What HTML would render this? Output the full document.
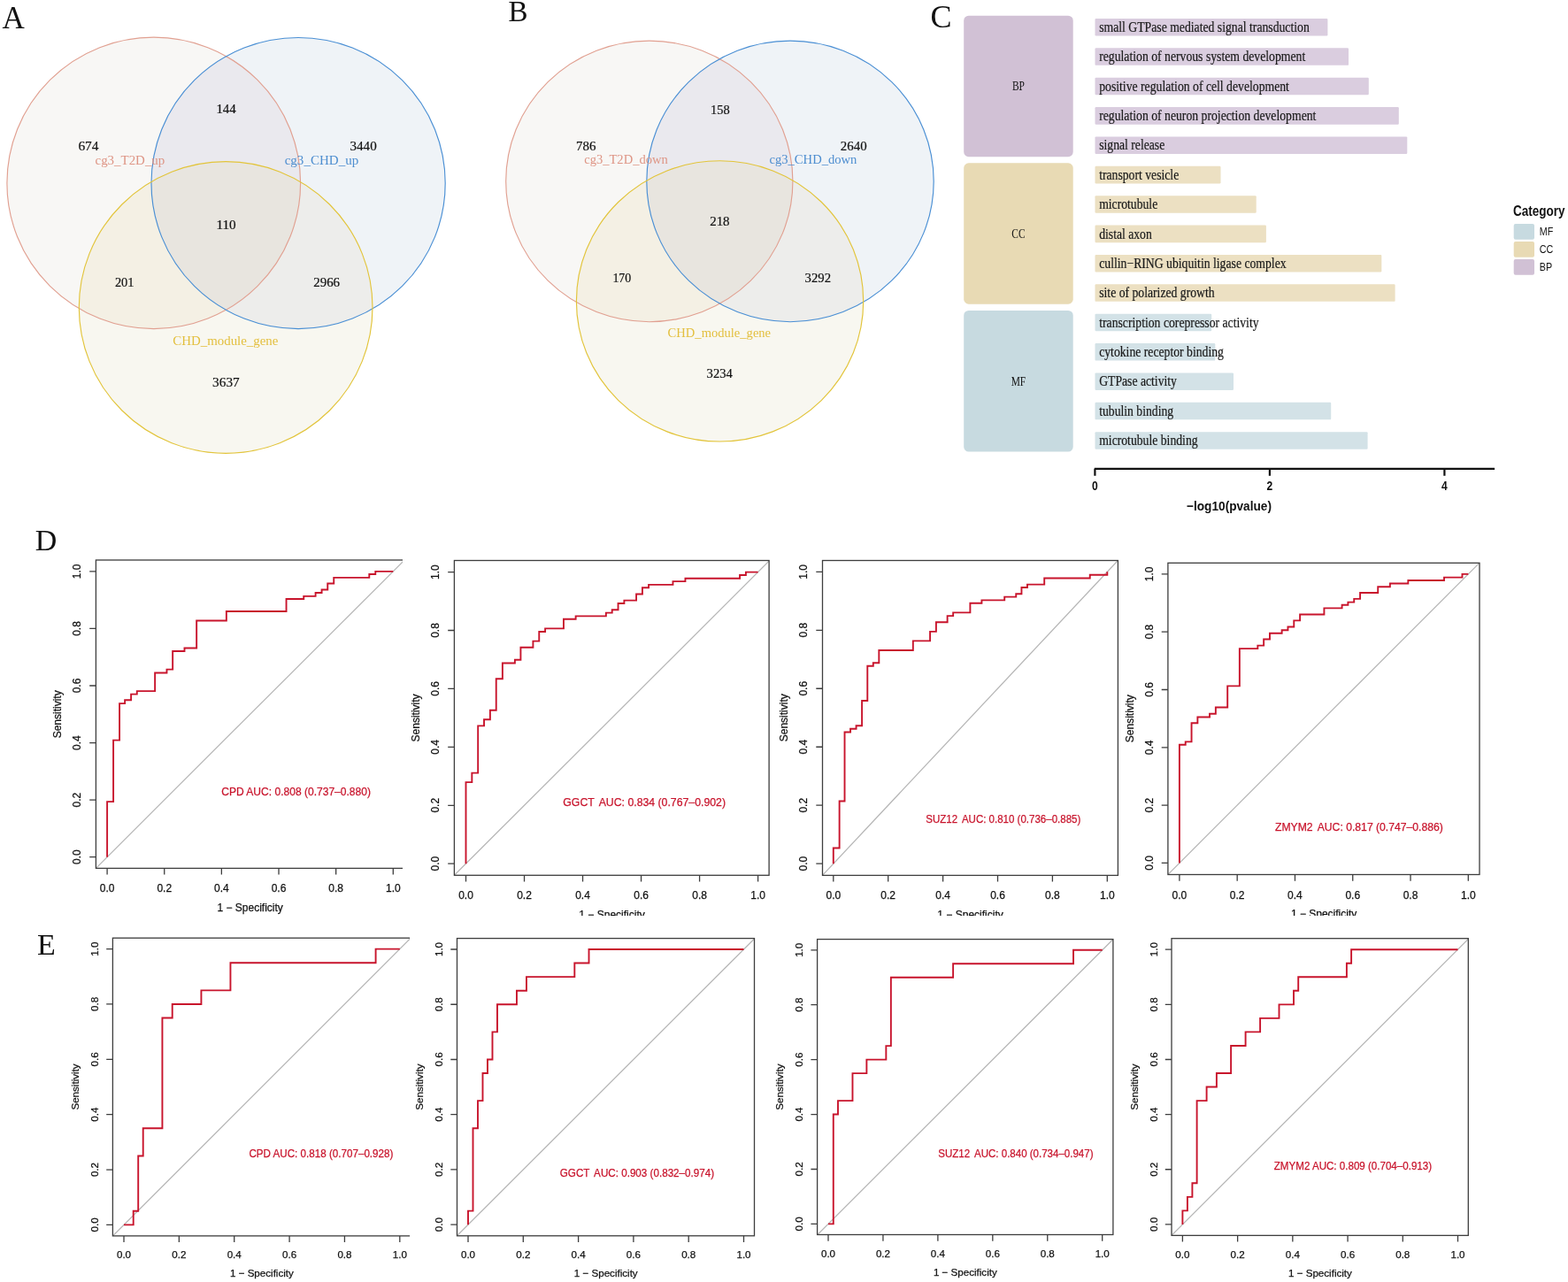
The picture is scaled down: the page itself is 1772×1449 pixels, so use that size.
<!DOCTYPE html><html><head><meta charset="utf-8"><title>Figure</title><style>html,body{margin:0;padding:0;background:#fff;}svg{display:block;}</style></head><body>
<svg width="1772" height="1449" viewBox="0 0 1772 1449">
<rect width="1772" height="1449" fill="#fff"/>
<clipPath id="vr1"><ellipse cx="173.75" cy="206.9" rx="165.85" ry="164.7"/></clipPath>
<clipPath id="vb1"><ellipse cx="337.1" cy="207.05" rx="166.1" ry="164.55"/></clipPath>
<ellipse cx="173.75" cy="206.9" rx="165.85" ry="164.7" fill="#F8F7F5"/>
<ellipse cx="337.1" cy="207.05" rx="166.1" ry="164.55" fill="#EFF3F7"/>
<ellipse cx="255.15" cy="347.5" rx="165.85" ry="164.8" fill="#F8F7F0"/>
<ellipse cx="337.1" cy="207.05" rx="166.1" ry="164.55" fill="#EAE9EE" clip-path="url(#vr1)"/>
<ellipse cx="255.15" cy="347.5" rx="165.85" ry="164.8" fill="#F4F0E4" clip-path="url(#vr1)"/>
<ellipse cx="255.15" cy="347.5" rx="165.85" ry="164.8" fill="#EDEDEB" clip-path="url(#vb1)"/>
<g clip-path="url(#vr1)"><ellipse cx="255.15" cy="347.5" rx="165.85" ry="164.8" fill="#E8E5DF" clip-path="url(#vb1)"/></g>
<ellipse cx="173.75" cy="206.9" rx="165.85" ry="164.7" fill="none" stroke="#E1A091" stroke-width="1.15"/>
<ellipse cx="337.1" cy="207.05" rx="166.1" ry="164.55" fill="none" stroke="#4A8FD4" stroke-width="1.15"/>
<ellipse cx="255.15" cy="347.5" rx="165.85" ry="164.8" fill="none" stroke="#E2C43A" stroke-width="1.15"/>
<text x="255.55" y="128.00" font-family='"Liberation Serif", serif' font-size="15.3" fill="#111" text-anchor="middle" textLength="22.30" lengthAdjust="spacingAndGlyphs" stroke="#111" stroke-width="0.2">144</text>
<text x="100.00" y="169.80" font-family='"Liberation Serif", serif' font-size="15.3" fill="#111" text-anchor="middle" textLength="23.20" lengthAdjust="spacingAndGlyphs" stroke="#111" stroke-width="0.2">674</text>
<text x="410.60" y="170.00" font-family='"Liberation Serif", serif' font-size="15.3" fill="#111" text-anchor="middle" textLength="30.20" lengthAdjust="spacingAndGlyphs" stroke="#111" stroke-width="0.2">3440</text>
<text x="255.55" y="258.70" font-family='"Liberation Serif", serif' font-size="15.3" fill="#111" text-anchor="middle" textLength="22.30" lengthAdjust="spacingAndGlyphs" stroke="#111" stroke-width="0.2">110</text>
<text x="140.70" y="324.30" font-family='"Liberation Serif", serif' font-size="15.3" fill="#111" text-anchor="middle" textLength="21.60" lengthAdjust="spacingAndGlyphs" stroke="#111" stroke-width="0.2">201</text>
<text x="369.15" y="324.30" font-family='"Liberation Serif", serif' font-size="15.3" fill="#111" text-anchor="middle" textLength="29.90" lengthAdjust="spacingAndGlyphs" stroke="#111" stroke-width="0.2">2966</text>
<text x="255.40" y="437.40" font-family='"Liberation Serif", serif' font-size="15.3" fill="#111" text-anchor="middle" textLength="30.60" lengthAdjust="spacingAndGlyphs" stroke="#111" stroke-width="0.2">3637</text>
<text x="146.90" y="185.70" font-family='"Liberation Serif", serif' font-size="14.5" fill="#DE9585" text-anchor="middle" textLength="78.80" lengthAdjust="spacingAndGlyphs">cg3_T2D_up</text>
<text x="363.45" y="185.60" font-family='"Liberation Serif", serif' font-size="14.5" fill="#4E8ED0" text-anchor="middle" textLength="83.50" lengthAdjust="spacingAndGlyphs">cg3_CHD_up</text>
<text x="254.85" y="389.50" font-family='"Liberation Serif", serif' font-size="14.5" fill="#E3BF3E" text-anchor="middle" textLength="119.10" lengthAdjust="spacingAndGlyphs">CHD_module_gene</text>
<clipPath id="vr2"><ellipse cx="733.8" cy="204.9" rx="162.1" ry="158.8"/></clipPath>
<clipPath id="vb2"><ellipse cx="893.0" cy="204.9" rx="162.2" ry="158.8"/></clipPath>
<ellipse cx="733.8" cy="204.9" rx="162.1" ry="158.8" fill="#F8F7F5"/>
<ellipse cx="893.0" cy="204.9" rx="162.2" ry="158.8" fill="#EFF3F7"/>
<ellipse cx="813.55" cy="340.4" rx="162.15" ry="158.6" fill="#F8F7F0"/>
<ellipse cx="893.0" cy="204.9" rx="162.2" ry="158.8" fill="#EAE9EE" clip-path="url(#vr2)"/>
<ellipse cx="813.55" cy="340.4" rx="162.15" ry="158.6" fill="#F4F0E4" clip-path="url(#vr2)"/>
<ellipse cx="813.55" cy="340.4" rx="162.15" ry="158.6" fill="#EDEDEB" clip-path="url(#vb2)"/>
<g clip-path="url(#vr2)"><ellipse cx="813.55" cy="340.4" rx="162.15" ry="158.6" fill="#E8E5DF" clip-path="url(#vb2)"/></g>
<ellipse cx="733.8" cy="204.9" rx="162.1" ry="158.8" fill="none" stroke="#E1A091" stroke-width="1.15"/>
<ellipse cx="893.0" cy="204.9" rx="162.2" ry="158.8" fill="none" stroke="#4A8FD4" stroke-width="1.15"/>
<ellipse cx="813.55" cy="340.4" rx="162.15" ry="158.6" fill="none" stroke="#E2C43A" stroke-width="1.15"/>
<text x="813.80" y="129.40" font-family='"Liberation Serif", serif' font-size="15.3" fill="#111" text-anchor="middle" textLength="21.60" lengthAdjust="spacingAndGlyphs" stroke="#111" stroke-width="0.2">158</text>
<text x="662.30" y="170.00" font-family='"Liberation Serif", serif' font-size="15.3" fill="#111" text-anchor="middle" textLength="22.40" lengthAdjust="spacingAndGlyphs" stroke="#111" stroke-width="0.2">786</text>
<text x="964.70" y="170.00" font-family='"Liberation Serif", serif' font-size="15.3" fill="#111" text-anchor="middle" textLength="29.80" lengthAdjust="spacingAndGlyphs" stroke="#111" stroke-width="0.2">2640</text>
<text x="813.40" y="255.10" font-family='"Liberation Serif", serif' font-size="15.3" fill="#111" text-anchor="middle" textLength="22.40" lengthAdjust="spacingAndGlyphs" stroke="#111" stroke-width="0.2">218</text>
<text x="702.85" y="318.60" font-family='"Liberation Serif", serif' font-size="15.3" fill="#111" text-anchor="middle" textLength="20.90" lengthAdjust="spacingAndGlyphs" stroke="#111" stroke-width="0.2">170</text>
<text x="924.35" y="318.60" font-family='"Liberation Serif", serif' font-size="15.3" fill="#111" text-anchor="middle" textLength="29.50" lengthAdjust="spacingAndGlyphs" stroke="#111" stroke-width="0.2">3292</text>
<text x="813.20" y="426.60" font-family='"Liberation Serif", serif' font-size="15.3" fill="#111" text-anchor="middle" textLength="29.20" lengthAdjust="spacingAndGlyphs" stroke="#111" stroke-width="0.2">3234</text>
<text x="707.50" y="184.50" font-family='"Liberation Serif", serif' font-size="14.5" fill="#DE9585" text-anchor="middle" textLength="94.60" lengthAdjust="spacingAndGlyphs">cg3_T2D_down</text>
<text x="918.95" y="184.50" font-family='"Liberation Serif", serif' font-size="14.5" fill="#4E8ED0" text-anchor="middle" textLength="98.90" lengthAdjust="spacingAndGlyphs">cg3_CHD_down</text>
<text x="812.85" y="380.50" font-family='"Liberation Serif", serif' font-size="14.5" fill="#E3BF3E" text-anchor="middle" textLength="116.50" lengthAdjust="spacingAndGlyphs">CHD_module_gene</text>
<rect x="1089.2" y="17.7" width="123.5" height="159.5" rx="5.5" fill="#D1C1D5"/>
<text x="1150.95" y="102.45" font-family='"Liberation Serif", serif' font-size="14.3" fill="#111" text-anchor="middle" textLength="13.99" lengthAdjust="spacingAndGlyphs">BP</text>
<rect x="1089.2" y="184.3" width="123.5" height="159.4" rx="5.5" fill="#E8DAB4"/>
<text x="1150.95" y="269.00" font-family='"Liberation Serif", serif' font-size="14.3" fill="#111" text-anchor="middle" textLength="15.26" lengthAdjust="spacingAndGlyphs">CC</text>
<rect x="1089.2" y="351.0" width="123.5" height="159.6" rx="5.5" fill="#C7DAE0"/>
<text x="1150.95" y="435.80" font-family='"Liberation Serif", serif' font-size="14.3" fill="#111" text-anchor="middle" textLength="16.54" lengthAdjust="spacingAndGlyphs">MF</text>
<rect x="1237.5" y="20.90" width="262.9" height="19.6" rx="1.2" fill="#DACDDF"/>
<rect x="1237.5" y="54.27" width="286.5" height="19.6" rx="1.2" fill="#DACDDF"/>
<rect x="1237.5" y="87.65" width="309.3" height="19.6" rx="1.2" fill="#DACDDF"/>
<rect x="1237.5" y="121.03" width="343.3" height="19.6" rx="1.2" fill="#DACDDF"/>
<rect x="1237.5" y="154.40" width="352.8" height="19.6" rx="1.2" fill="#DACDDF"/>
<rect x="1237.5" y="187.78" width="142.0" height="19.6" rx="1.2" fill="#ECE0C2"/>
<rect x="1237.5" y="221.15" width="182.2" height="19.6" rx="1.2" fill="#ECE0C2"/>
<rect x="1237.5" y="254.53" width="193.4" height="19.6" rx="1.2" fill="#ECE0C2"/>
<rect x="1237.5" y="287.90" width="323.8" height="19.6" rx="1.2" fill="#ECE0C2"/>
<rect x="1237.5" y="321.27" width="339.1" height="19.6" rx="1.2" fill="#ECE0C2"/>
<rect x="1237.5" y="354.65" width="131.7" height="19.6" rx="1.2" fill="#D3E2E7"/>
<rect x="1237.5" y="388.02" width="135.8" height="19.6" rx="1.2" fill="#D3E2E7"/>
<rect x="1237.5" y="421.40" width="156.5" height="19.6" rx="1.2" fill="#D3E2E7"/>
<rect x="1237.5" y="454.77" width="266.7" height="19.6" rx="1.2" fill="#D3E2E7"/>
<rect x="1237.5" y="488.15" width="308.1" height="19.6" rx="1.2" fill="#D3E2E7"/>
<text x="1242.20" y="35.90" font-family='"Liberation Serif", serif' font-size="15.7" fill="#1a1a1a" textLength="237.60" lengthAdjust="spacingAndGlyphs" stroke="#1a1a1a" stroke-width="0.2">small GTPase mediated signal transduction</text>
<text x="1242.20" y="69.28" font-family='"Liberation Serif", serif' font-size="15.7" fill="#1a1a1a" textLength="233.02" lengthAdjust="spacingAndGlyphs" stroke="#1a1a1a" stroke-width="0.2">regulation of nervous system development</text>
<text x="1242.20" y="102.65" font-family='"Liberation Serif", serif' font-size="15.7" fill="#1a1a1a" textLength="214.71" lengthAdjust="spacingAndGlyphs" stroke="#1a1a1a" stroke-width="0.2">positive regulation of cell development</text>
<text x="1242.20" y="136.03" font-family='"Liberation Serif", serif' font-size="15.7" fill="#1a1a1a" textLength="245.20" lengthAdjust="spacingAndGlyphs" stroke="#1a1a1a" stroke-width="0.2">regulation of neuron projection development</text>
<text x="1242.20" y="169.40" font-family='"Liberation Serif", serif' font-size="15.7" fill="#1a1a1a" textLength="74.02" lengthAdjust="spacingAndGlyphs" stroke="#1a1a1a" stroke-width="0.2">signal release</text>
<text x="1242.20" y="202.78" font-family='"Liberation Serif", serif' font-size="15.7" fill="#1a1a1a" textLength="90.04" lengthAdjust="spacingAndGlyphs" stroke="#1a1a1a" stroke-width="0.2">transport vesicle</text>
<text x="1242.20" y="236.15" font-family='"Liberation Serif", serif' font-size="15.7" fill="#1a1a1a" textLength="66.03" lengthAdjust="spacingAndGlyphs" stroke="#1a1a1a" stroke-width="0.2">microtubule</text>
<text x="1242.20" y="269.52" font-family='"Liberation Serif", serif' font-size="15.7" fill="#1a1a1a" textLength="59.56" lengthAdjust="spacingAndGlyphs" stroke="#1a1a1a" stroke-width="0.2">distal axon</text>
<text x="1242.20" y="302.90" font-family='"Liberation Serif", serif' font-size="15.7" fill="#1a1a1a" textLength="211.42" lengthAdjust="spacingAndGlyphs" stroke="#1a1a1a" stroke-width="0.2">cullin−RING ubiquitin ligase complex</text>
<text x="1242.20" y="336.27" font-family='"Liberation Serif", serif' font-size="15.7" fill="#1a1a1a" textLength="130.46" lengthAdjust="spacingAndGlyphs" stroke="#1a1a1a" stroke-width="0.2">site of polarized growth</text>
<text x="1242.20" y="369.65" font-family='"Liberation Serif", serif' font-size="15.7" fill="#1a1a1a" textLength="180.39" lengthAdjust="spacingAndGlyphs" stroke="#1a1a1a" stroke-width="0.2">transcription corepressor activity</text>
<text x="1242.20" y="403.02" font-family='"Liberation Serif", serif' font-size="15.7" fill="#1a1a1a" textLength="140.75" lengthAdjust="spacingAndGlyphs" stroke="#1a1a1a" stroke-width="0.2">cytokine receptor binding</text>
<text x="1242.20" y="436.40" font-family='"Liberation Serif", serif' font-size="15.7" fill="#1a1a1a" textLength="87.77" lengthAdjust="spacingAndGlyphs" stroke="#1a1a1a" stroke-width="0.2">GTPase activity</text>
<text x="1242.20" y="469.77" font-family='"Liberation Serif", serif' font-size="15.7" fill="#1a1a1a" textLength="83.98" lengthAdjust="spacingAndGlyphs" stroke="#1a1a1a" stroke-width="0.2">tubulin binding</text>
<text x="1242.20" y="503.15" font-family='"Liberation Serif", serif' font-size="15.7" fill="#1a1a1a" textLength="111.41" lengthAdjust="spacingAndGlyphs" stroke="#1a1a1a" stroke-width="0.2">microtubule binding</text>
<path d="M1236.8 529.8H1689.1 M1237.4 529.8V537.8 M1434.9 529.8V537.8 M1632.4 529.8V537.8" stroke="#111" stroke-width="2.2" fill="none"/>
<text x="1237.40" y="553.60" font-family='"Liberation Sans", sans-serif' font-size="14" fill="#111" text-anchor="middle" font-weight="bold" textLength="6.70" lengthAdjust="spacingAndGlyphs">0</text>
<text x="1434.90" y="553.60" font-family='"Liberation Sans", sans-serif' font-size="14" fill="#111" text-anchor="middle" font-weight="bold" textLength="6.70" lengthAdjust="spacingAndGlyphs">2</text>
<text x="1632.40" y="553.60" font-family='"Liberation Sans", sans-serif' font-size="14" fill="#111" text-anchor="middle" font-weight="bold" textLength="6.70" lengthAdjust="spacingAndGlyphs">4</text>
<text x="1341.00" y="576.70" font-family='"Liberation Sans", sans-serif' font-size="15" fill="#111" font-weight="bold" textLength="96.00" lengthAdjust="spacingAndGlyphs">−log10(pvalue)</text>
<text x="1710.00" y="243.70" font-family='"Liberation Sans", sans-serif' font-size="17" fill="#111" font-weight="bold" textLength="58.50" lengthAdjust="spacingAndGlyphs">Category</text>
<rect x="1710.7" y="252.9" width="23.3" height="17.8" rx="2" fill="#C7DAE0"/>
<text x="1739.80" y="266.30" font-family='"Liberation Sans", sans-serif' font-size="12.5" fill="#111" textLength="15.52" lengthAdjust="spacingAndGlyphs">MF</text>
<rect x="1710.7" y="273.0" width="23.3" height="17.8" rx="2" fill="#E8DAB4"/>
<text x="1739.80" y="286.40" font-family='"Liberation Sans", sans-serif' font-size="12.5" fill="#111" textLength="15.53" lengthAdjust="spacingAndGlyphs">CC</text>
<rect x="1710.7" y="292.9" width="23.3" height="17.8" rx="2" fill="#D1C1D5"/>
<text x="1739.80" y="306.30" font-family='"Liberation Sans", sans-serif' font-size="12.5" fill="#111" textLength="14.34" lengthAdjust="spacingAndGlyphs">BP</text>
<clipPath id="clipD1"><rect x="48.4" y="613.0" width="406.6" height="427.0"/></clipPath>
<g clip-path="url(#clipD1)">
<clipPath id="iclipD1"><rect x="108.4" y="633.0" width="348.8" height="348.4"/></clipPath>
<line x1="88.78" y1="1000.98" x2="476.62" y2="613.62" stroke="#B5B5B5" stroke-width="1.25" clip-path="url(#iclipD1)"/>
<rect x="108.40" y="633.00" width="348.80" height="348.40" fill="none" stroke="#3d3d3d" stroke-width="1.3"/>
<path d="M121.10 981.40V988.60 M108.40 968.70H101.20 M185.74 981.40V988.60 M108.40 904.14H101.20 M250.38 981.40V988.60 M108.40 839.58H101.20 M315.02 981.40V988.60 M108.40 775.02H101.20 M379.66 981.40V988.60 M108.40 710.46H101.20 M444.30 981.40V988.60 M108.40 645.90H101.20" stroke="#3d3d3d" stroke-width="1.3" fill="none"/>
<text x="121.10" y="1008.40" font-family='"Liberation Sans", sans-serif' font-size="12" fill="#111" text-anchor="middle" stroke="#111" stroke-width="0.25">0.0</text>
<text transform="translate(91.10,968.70) rotate(-90)" x="0" y="0" font-family='"Liberation Sans", sans-serif' font-size="12" fill="#111" stroke="#111" stroke-width="0.25" text-anchor="middle">0.0</text>
<text x="185.74" y="1008.40" font-family='"Liberation Sans", sans-serif' font-size="12" fill="#111" text-anchor="middle" stroke="#111" stroke-width="0.25">0.2</text>
<text transform="translate(91.10,904.14) rotate(-90)" x="0" y="0" font-family='"Liberation Sans", sans-serif' font-size="12" fill="#111" stroke="#111" stroke-width="0.25" text-anchor="middle">0.2</text>
<text x="250.38" y="1008.40" font-family='"Liberation Sans", sans-serif' font-size="12" fill="#111" text-anchor="middle" stroke="#111" stroke-width="0.25">0.4</text>
<text transform="translate(91.10,839.58) rotate(-90)" x="0" y="0" font-family='"Liberation Sans", sans-serif' font-size="12" fill="#111" stroke="#111" stroke-width="0.25" text-anchor="middle">0.4</text>
<text x="315.02" y="1008.40" font-family='"Liberation Sans", sans-serif' font-size="12" fill="#111" text-anchor="middle" stroke="#111" stroke-width="0.25">0.6</text>
<text transform="translate(91.10,775.02) rotate(-90)" x="0" y="0" font-family='"Liberation Sans", sans-serif' font-size="12" fill="#111" stroke="#111" stroke-width="0.25" text-anchor="middle">0.6</text>
<text x="379.66" y="1008.40" font-family='"Liberation Sans", sans-serif' font-size="12" fill="#111" text-anchor="middle" stroke="#111" stroke-width="0.25">0.8</text>
<text transform="translate(91.10,710.46) rotate(-90)" x="0" y="0" font-family='"Liberation Sans", sans-serif' font-size="12" fill="#111" stroke="#111" stroke-width="0.25" text-anchor="middle">0.8</text>
<text x="444.30" y="1008.40" font-family='"Liberation Sans", sans-serif' font-size="12" fill="#111" text-anchor="middle" stroke="#111" stroke-width="0.25">1.0</text>
<text transform="translate(91.10,645.90) rotate(-90)" x="0" y="0" font-family='"Liberation Sans", sans-serif' font-size="12" fill="#111" stroke="#111" stroke-width="0.25" text-anchor="middle">1.0</text>
<text x="282.70" y="1029.80" font-family='"Liberation Sans", sans-serif' font-size="12" fill="#111" text-anchor="middle" stroke="#111" stroke-width="0.25">1 − Specificity</text>
<text transform="translate(69.10,807.30) rotate(-90)" x="0" y="0" font-family='"Liberation Sans", sans-serif' font-size="12" fill="#111" stroke="#111" stroke-width="0.25" text-anchor="middle">Sensitivity</text>
<path d="M121.10 968.70 L121.10 906.17 L128.09 906.17 L128.09 836.66 L135.08 836.66 L135.08 795.08 L141.12 795.08 L141.12 791.27 L148.11 791.27 L148.11 784.61 L154.79 784.61 L154.79 781.11 L175.13 781.11 L175.13 760.48 L188.47 760.48 L188.47 756.67 L195.15 756.67 L195.15 736.04 L208.49 736.04 L208.49 732.55 L222.16 732.55 L222.16 701.45 L255.85 701.45 L255.85 690.97 L323.54 690.97 L323.54 677.01 L343.24 677.01 L343.24 673.83 L356.59 673.83 L356.59 670.02 L363.58 670.02 L363.58 666.53 L370.25 666.53 L370.25 659.55 L377.24 659.55 L377.24 652.88 L417.29 652.88 L417.29 649.07 L424.28 649.07 L424.28 645.90 L444.30 645.90" fill="none" stroke="#C8142C" stroke-width="1.9" stroke-linejoin="miter" stroke-linecap="butt"/>
<text x="250.20" y="899.30" font-family='"Liberation Sans", sans-serif' font-size="12.5" fill="#C8142C" stroke="#C8142C" stroke-width="0.25" textLength="168.80" lengthAdjust="spacingAndGlyphs">CPD AUC: 0.808 (0.737–0.880)</text>
</g>
<clipPath id="clipD2"><rect x="453.4" y="613.5" width="435.7" height="421.5"/></clipPath>
<g clip-path="url(#clipD2)">
<clipPath id="iclipD2"><rect x="513.4" y="633.5" width="355.7" height="355.8"/></clipPath>
<line x1="493.49" y1="1009.16" x2="889.61" y2="613.64" stroke="#B5B5B5" stroke-width="1.25" clip-path="url(#iclipD2)"/>
<rect x="513.40" y="633.50" width="355.70" height="355.80" fill="none" stroke="#3d3d3d" stroke-width="1.3"/>
<path d="M526.50 989.30V996.50 M513.40 976.20H506.20 M592.52 989.30V996.50 M513.40 910.28H506.20 M658.54 989.30V996.50 M513.40 844.36H506.20 M724.56 989.30V996.50 M513.40 778.44H506.20 M790.58 989.30V996.50 M513.40 712.52H506.20 M856.60 989.30V996.50 M513.40 646.60H506.20" stroke="#3d3d3d" stroke-width="1.3" fill="none"/>
<text x="526.50" y="1016.30" font-family='"Liberation Sans", sans-serif' font-size="12" fill="#111" text-anchor="middle" stroke="#111" stroke-width="0.25">0.0</text>
<text transform="translate(496.10,976.20) rotate(-90)" x="0" y="0" font-family='"Liberation Sans", sans-serif' font-size="12" fill="#111" stroke="#111" stroke-width="0.25" text-anchor="middle">0.0</text>
<text x="592.52" y="1016.30" font-family='"Liberation Sans", sans-serif' font-size="12" fill="#111" text-anchor="middle" stroke="#111" stroke-width="0.25">0.2</text>
<text transform="translate(496.10,910.28) rotate(-90)" x="0" y="0" font-family='"Liberation Sans", sans-serif' font-size="12" fill="#111" stroke="#111" stroke-width="0.25" text-anchor="middle">0.2</text>
<text x="658.54" y="1016.30" font-family='"Liberation Sans", sans-serif' font-size="12" fill="#111" text-anchor="middle" stroke="#111" stroke-width="0.25">0.4</text>
<text transform="translate(496.10,844.36) rotate(-90)" x="0" y="0" font-family='"Liberation Sans", sans-serif' font-size="12" fill="#111" stroke="#111" stroke-width="0.25" text-anchor="middle">0.4</text>
<text x="724.56" y="1016.30" font-family='"Liberation Sans", sans-serif' font-size="12" fill="#111" text-anchor="middle" stroke="#111" stroke-width="0.25">0.6</text>
<text transform="translate(496.10,778.44) rotate(-90)" x="0" y="0" font-family='"Liberation Sans", sans-serif' font-size="12" fill="#111" stroke="#111" stroke-width="0.25" text-anchor="middle">0.6</text>
<text x="790.58" y="1016.30" font-family='"Liberation Sans", sans-serif' font-size="12" fill="#111" text-anchor="middle" stroke="#111" stroke-width="0.25">0.8</text>
<text transform="translate(496.10,712.52) rotate(-90)" x="0" y="0" font-family='"Liberation Sans", sans-serif' font-size="12" fill="#111" stroke="#111" stroke-width="0.25" text-anchor="middle">0.8</text>
<text x="856.60" y="1016.30" font-family='"Liberation Sans", sans-serif' font-size="12" fill="#111" text-anchor="middle" stroke="#111" stroke-width="0.25">1.0</text>
<text transform="translate(496.10,646.60) rotate(-90)" x="0" y="0" font-family='"Liberation Sans", sans-serif' font-size="12" fill="#111" stroke="#111" stroke-width="0.25" text-anchor="middle">1.0</text>
<text x="691.55" y="1037.70" font-family='"Liberation Sans", sans-serif' font-size="12" fill="#111" text-anchor="middle" stroke="#111" stroke-width="0.25">1 − Specificity</text>
<text transform="translate(474.10,811.40) rotate(-90)" x="0" y="0" font-family='"Liberation Sans", sans-serif' font-size="12" fill="#111" stroke="#111" stroke-width="0.25" text-anchor="middle">Sensitivity</text>
<path d="M526.50 976.20 L526.50 884.16 L533.34 884.16 L533.34 873.59 L540.19 873.59 L540.19 820.42 L547.03 820.42 L547.03 813.27 L553.88 813.27 L553.88 802.69 L560.72 802.69 L560.72 767.25 L567.88 767.25 L567.88 749.52 L581.88 749.52 L581.88 745.79 L588.41 745.79 L588.41 731.80 L602.41 731.80 L602.41 724.65 L609.26 724.65 L609.26 714.07 L616.10 714.07 L616.10 710.34 L636.95 710.34 L636.95 699.77 L650.64 699.77 L650.64 696.35 L684.86 696.35 L684.86 692.62 L691.71 692.62 L691.71 689.20 L698.55 689.20 L698.55 682.05 L705.39 682.05 L705.39 678.63 L719.08 678.63 L719.08 671.48 L725.93 671.48 L725.93 664.32 L733.08 664.32 L733.08 660.90 L760.46 660.90 L760.46 657.17 L774.46 657.17 L774.46 653.75 L836.07 653.75 L836.07 650.02 L842.91 650.02 L842.91 646.60 L856.60 646.60" fill="none" stroke="#C8142C" stroke-width="1.9" stroke-linejoin="miter" stroke-linecap="butt"/>
<text x="636.30" y="910.50" font-family='"Liberation Sans", sans-serif' font-size="12.5" fill="#C8142C" stroke="#C8142C" stroke-width="0.25" textLength="183.70" lengthAdjust="spacingAndGlyphs"><tspan>GGCT</tspan><tspan dx="2.4"> AUC: 0.834 (0.767–0.902)</tspan></text>
</g>
<clipPath id="clipD3"><rect x="869.5" y="613.5" width="413.9" height="421.5"/></clipPath>
<g clip-path="url(#clipD3)">
<clipPath id="iclipD3"><rect x="929.5" y="633.5" width="333.9" height="355.9"/></clipPath>
<line x1="910.85" y1="1009.19" x2="1282.25" y2="613.31" stroke="#B5B5B5" stroke-width="1.25" clip-path="url(#iclipD3)"/>
<rect x="929.50" y="633.50" width="333.90" height="355.90" fill="none" stroke="#3d3d3d" stroke-width="1.3"/>
<path d="M941.80 989.40V996.60 M929.50 976.20H922.30 M1003.70 989.40V996.60 M929.50 910.22H922.30 M1065.60 989.40V996.60 M929.50 844.24H922.30 M1127.50 989.40V996.60 M929.50 778.26H922.30 M1189.40 989.40V996.60 M929.50 712.28H922.30 M1251.30 989.40V996.60 M929.50 646.30H922.30" stroke="#3d3d3d" stroke-width="1.3" fill="none"/>
<text x="941.80" y="1016.40" font-family='"Liberation Sans", sans-serif' font-size="12" fill="#111" text-anchor="middle" stroke="#111" stroke-width="0.25">0.0</text>
<text transform="translate(912.20,976.20) rotate(-90)" x="0" y="0" font-family='"Liberation Sans", sans-serif' font-size="12" fill="#111" stroke="#111" stroke-width="0.25" text-anchor="middle">0.0</text>
<text x="1003.70" y="1016.40" font-family='"Liberation Sans", sans-serif' font-size="12" fill="#111" text-anchor="middle" stroke="#111" stroke-width="0.25">0.2</text>
<text transform="translate(912.20,910.22) rotate(-90)" x="0" y="0" font-family='"Liberation Sans", sans-serif' font-size="12" fill="#111" stroke="#111" stroke-width="0.25" text-anchor="middle">0.2</text>
<text x="1065.60" y="1016.40" font-family='"Liberation Sans", sans-serif' font-size="12" fill="#111" text-anchor="middle" stroke="#111" stroke-width="0.25">0.4</text>
<text transform="translate(912.20,844.24) rotate(-90)" x="0" y="0" font-family='"Liberation Sans", sans-serif' font-size="12" fill="#111" stroke="#111" stroke-width="0.25" text-anchor="middle">0.4</text>
<text x="1127.50" y="1016.40" font-family='"Liberation Sans", sans-serif' font-size="12" fill="#111" text-anchor="middle" stroke="#111" stroke-width="0.25">0.6</text>
<text transform="translate(912.20,778.26) rotate(-90)" x="0" y="0" font-family='"Liberation Sans", sans-serif' font-size="12" fill="#111" stroke="#111" stroke-width="0.25" text-anchor="middle">0.6</text>
<text x="1189.40" y="1016.40" font-family='"Liberation Sans", sans-serif' font-size="12" fill="#111" text-anchor="middle" stroke="#111" stroke-width="0.25">0.8</text>
<text transform="translate(912.20,712.28) rotate(-90)" x="0" y="0" font-family='"Liberation Sans", sans-serif' font-size="12" fill="#111" stroke="#111" stroke-width="0.25" text-anchor="middle">0.8</text>
<text x="1251.30" y="1016.40" font-family='"Liberation Sans", sans-serif' font-size="12" fill="#111" text-anchor="middle" stroke="#111" stroke-width="0.25">1.0</text>
<text transform="translate(912.20,646.30) rotate(-90)" x="0" y="0" font-family='"Liberation Sans", sans-serif' font-size="12" fill="#111" stroke="#111" stroke-width="0.25" text-anchor="middle">1.0</text>
<text x="1096.55" y="1037.80" font-family='"Liberation Sans", sans-serif' font-size="12" fill="#111" text-anchor="middle" stroke="#111" stroke-width="0.25">1 − Specificity</text>
<text transform="translate(890.20,811.25) rotate(-90)" x="0" y="0" font-family='"Liberation Sans", sans-serif' font-size="12" fill="#111" stroke="#111" stroke-width="0.25" text-anchor="middle">Sensitivity</text>
<path d="M941.80 976.20 L941.80 958.46 L948.63 958.46 L948.63 905.55 L954.53 905.55 L954.53 827.43 L961.05 827.43 L961.05 823.70 L967.57 823.70 L967.57 820.28 L974.08 820.28 L974.08 791.95 L980.29 791.95 L980.29 752.74 L986.81 752.74 L986.81 749.32 L993.33 749.32 L993.33 735.00 L1031.83 735.00 L1031.83 724.42 L1051.07 724.42 L1051.07 713.84 L1057.90 713.84 L1057.90 703.25 L1070.63 703.25 L1070.63 696.10 L1077.15 696.10 L1077.15 692.36 L1096.39 692.36 L1096.39 681.78 L1109.43 681.78 L1109.43 678.36 L1135.20 678.36 L1135.20 674.62 L1148.24 674.62 L1148.24 671.20 L1154.45 671.20 L1154.45 664.04 L1160.96 664.04 L1160.96 660.62 L1180.21 660.62 L1180.21 653.46 L1231.74 653.46 L1231.74 649.72 L1251.30 649.72 L1251.30 646.30" fill="none" stroke="#C8142C" stroke-width="1.9" stroke-linejoin="miter" stroke-linecap="butt"/>
<text x="1046.30" y="930.00" font-family='"Liberation Sans", sans-serif' font-size="12.5" fill="#C8142C" stroke="#C8142C" stroke-width="0.25" textLength="175.00" lengthAdjust="spacingAndGlyphs"><tspan>SUZ12</tspan><tspan dx="2.4"> AUC: 0.810 (0.736–0.885)</tspan></text>
</g>
<clipPath id="clipD4"><rect x="1259.9" y="616.3" width="432.1" height="418.7"/></clipPath>
<g clip-path="url(#clipD4)">
<clipPath id="iclipD4"><rect x="1319.9" y="636.3" width="352.1" height="352.2"/></clipPath>
<line x1="1300.26" y1="1008.05" x2="1691.94" y2="616.25" stroke="#B5B5B5" stroke-width="1.25" clip-path="url(#iclipD4)"/>
<rect x="1319.90" y="636.30" width="352.10" height="352.20" fill="none" stroke="#3d3d3d" stroke-width="1.3"/>
<path d="M1332.90 988.50V995.70 M1319.90 975.40H1312.70 M1398.18 988.50V995.70 M1319.90 910.10H1312.70 M1463.46 988.50V995.70 M1319.90 844.80H1312.70 M1528.74 988.50V995.70 M1319.90 779.50H1312.70 M1594.02 988.50V995.70 M1319.90 714.20H1312.70 M1659.30 988.50V995.70 M1319.90 648.90H1312.70" stroke="#3d3d3d" stroke-width="1.3" fill="none"/>
<text x="1332.90" y="1015.50" font-family='"Liberation Sans", sans-serif' font-size="12" fill="#111" text-anchor="middle" stroke="#111" stroke-width="0.25">0.0</text>
<text transform="translate(1302.60,975.40) rotate(-90)" x="0" y="0" font-family='"Liberation Sans", sans-serif' font-size="12" fill="#111" stroke="#111" stroke-width="0.25" text-anchor="middle">0.0</text>
<text x="1398.18" y="1015.50" font-family='"Liberation Sans", sans-serif' font-size="12" fill="#111" text-anchor="middle" stroke="#111" stroke-width="0.25">0.2</text>
<text transform="translate(1302.60,910.10) rotate(-90)" x="0" y="0" font-family='"Liberation Sans", sans-serif' font-size="12" fill="#111" stroke="#111" stroke-width="0.25" text-anchor="middle">0.2</text>
<text x="1463.46" y="1015.50" font-family='"Liberation Sans", sans-serif' font-size="12" fill="#111" text-anchor="middle" stroke="#111" stroke-width="0.25">0.4</text>
<text transform="translate(1302.60,844.80) rotate(-90)" x="0" y="0" font-family='"Liberation Sans", sans-serif' font-size="12" fill="#111" stroke="#111" stroke-width="0.25" text-anchor="middle">0.4</text>
<text x="1528.74" y="1015.50" font-family='"Liberation Sans", sans-serif' font-size="12" fill="#111" text-anchor="middle" stroke="#111" stroke-width="0.25">0.6</text>
<text transform="translate(1302.60,779.50) rotate(-90)" x="0" y="0" font-family='"Liberation Sans", sans-serif' font-size="12" fill="#111" stroke="#111" stroke-width="0.25" text-anchor="middle">0.6</text>
<text x="1594.02" y="1015.50" font-family='"Liberation Sans", sans-serif' font-size="12" fill="#111" text-anchor="middle" stroke="#111" stroke-width="0.25">0.8</text>
<text transform="translate(1302.60,714.20) rotate(-90)" x="0" y="0" font-family='"Liberation Sans", sans-serif' font-size="12" fill="#111" stroke="#111" stroke-width="0.25" text-anchor="middle">0.8</text>
<text x="1659.30" y="1015.50" font-family='"Liberation Sans", sans-serif' font-size="12" fill="#111" text-anchor="middle" stroke="#111" stroke-width="0.25">1.0</text>
<text transform="translate(1302.60,648.90) rotate(-90)" x="0" y="0" font-family='"Liberation Sans", sans-serif' font-size="12" fill="#111" stroke="#111" stroke-width="0.25" text-anchor="middle">1.0</text>
<text x="1496.10" y="1036.90" font-family='"Liberation Sans", sans-serif' font-size="12" fill="#111" text-anchor="middle" stroke="#111" stroke-width="0.25">1 − Specificity</text>
<text transform="translate(1280.60,812.15) rotate(-90)" x="0" y="0" font-family='"Liberation Sans", sans-serif' font-size="12" fill="#111" stroke="#111" stroke-width="0.25" text-anchor="middle">Sensitivity</text>
<path d="M1332.90 975.40 L1332.90 841.82 L1339.73 841.82 L1339.73 838.40 L1346.55 838.40 L1346.55 817.28 L1353.38 817.28 L1353.38 810.44 L1367.03 810.44 L1367.03 806.71 L1373.86 806.71 L1373.86 799.57 L1387.20 799.57 L1387.20 775.34 L1400.85 775.34 L1400.85 733.09 L1421.33 733.09 L1421.33 729.67 L1428.15 729.67 L1428.15 722.53 L1434.98 722.53 L1434.98 715.69 L1448.63 715.69 L1448.63 712.27 L1455.46 712.27 L1455.46 708.55 L1462.28 708.55 L1462.28 701.40 L1469.11 701.40 L1469.11 694.57 L1496.41 694.57 L1496.41 687.42 L1516.58 687.42 L1516.58 683.69 L1523.40 683.69 L1523.40 680.59 L1530.23 680.59 L1530.23 676.86 L1537.06 676.86 L1537.06 670.02 L1557.22 670.02 L1557.22 663.19 L1570.87 663.19 L1570.87 659.46 L1591.35 659.46 L1591.35 656.05 L1632.00 656.05 L1632.00 652.63 L1652.47 652.63 L1652.47 648.90 L1659.30 648.90" fill="none" stroke="#C8142C" stroke-width="1.9" stroke-linejoin="miter" stroke-linecap="butt"/>
<text x="1441.00" y="939.40" font-family='"Liberation Sans", sans-serif' font-size="12.5" fill="#C8142C" stroke="#C8142C" stroke-width="0.25" textLength="189.90" lengthAdjust="spacingAndGlyphs"><tspan>ZMYM2</tspan><tspan dx="2.4"> AUC: 0.817 (0.747–0.886)</tspan></text>
</g>
<clipPath id="clipE1"><rect x="67.4" y="1040.2" width="395.7" height="416.7"/></clipPath>
<g clip-path="url(#clipE1)">
<clipPath id="iclipE1"><rect x="127.4" y="1060.2" width="338.6" height="336.7"/></clipPath>
<line x1="108.82" y1="1415.58" x2="482.98" y2="1041.42" stroke="#B5B5B5" stroke-width="1.25" clip-path="url(#iclipE1)"/>
<rect x="127.40" y="1060.20" width="338.60" height="336.70" fill="none" stroke="#3d3d3d" stroke-width="1.3"/>
<path d="M140.00 1396.90V1404.10 M127.40 1384.40H120.20 M202.36 1396.90V1404.10 M127.40 1322.04H120.20 M264.72 1396.90V1404.10 M127.40 1259.68H120.20 M327.08 1396.90V1404.10 M127.40 1197.32H120.20 M389.44 1396.90V1404.10 M127.40 1134.96H120.20 M451.80 1396.90V1404.10 M127.40 1072.60H120.20" stroke="#3d3d3d" stroke-width="1.3" fill="none"/>
<text x="140.00" y="1422.40" font-family='"Liberation Sans", sans-serif' font-size="11.6" fill="#111" text-anchor="middle" stroke="#111" stroke-width="0.25">0.0</text>
<text transform="translate(111.20,1384.40) rotate(-90)" x="0" y="0" font-family='"Liberation Sans", sans-serif' font-size="11.6" fill="#111" stroke="#111" stroke-width="0.25" text-anchor="middle">0.0</text>
<text x="202.36" y="1422.40" font-family='"Liberation Sans", sans-serif' font-size="11.6" fill="#111" text-anchor="middle" stroke="#111" stroke-width="0.25">0.2</text>
<text transform="translate(111.20,1322.04) rotate(-90)" x="0" y="0" font-family='"Liberation Sans", sans-serif' font-size="11.6" fill="#111" stroke="#111" stroke-width="0.25" text-anchor="middle">0.2</text>
<text x="264.72" y="1422.40" font-family='"Liberation Sans", sans-serif' font-size="11.6" fill="#111" text-anchor="middle" stroke="#111" stroke-width="0.25">0.4</text>
<text transform="translate(111.20,1259.68) rotate(-90)" x="0" y="0" font-family='"Liberation Sans", sans-serif' font-size="11.6" fill="#111" stroke="#111" stroke-width="0.25" text-anchor="middle">0.4</text>
<text x="327.08" y="1422.40" font-family='"Liberation Sans", sans-serif' font-size="11.6" fill="#111" text-anchor="middle" stroke="#111" stroke-width="0.25">0.6</text>
<text transform="translate(111.20,1197.32) rotate(-90)" x="0" y="0" font-family='"Liberation Sans", sans-serif' font-size="11.6" fill="#111" stroke="#111" stroke-width="0.25" text-anchor="middle">0.6</text>
<text x="389.44" y="1422.40" font-family='"Liberation Sans", sans-serif' font-size="11.6" fill="#111" text-anchor="middle" stroke="#111" stroke-width="0.25">0.8</text>
<text transform="translate(111.20,1134.96) rotate(-90)" x="0" y="0" font-family='"Liberation Sans", sans-serif' font-size="11.6" fill="#111" stroke="#111" stroke-width="0.25" text-anchor="middle">0.8</text>
<text x="451.80" y="1422.40" font-family='"Liberation Sans", sans-serif' font-size="11.6" fill="#111" text-anchor="middle" stroke="#111" stroke-width="0.25">1.0</text>
<text transform="translate(111.20,1072.60) rotate(-90)" x="0" y="0" font-family='"Liberation Sans", sans-serif' font-size="11.6" fill="#111" stroke="#111" stroke-width="0.25" text-anchor="middle">1.0</text>
<text x="295.90" y="1443.10" font-family='"Liberation Sans", sans-serif' font-size="11.6" fill="#111" text-anchor="middle" stroke="#111" stroke-width="0.25">1 − Specificity</text>
<text transform="translate(89.00,1228.50) rotate(-90)" x="0" y="0" font-family='"Liberation Sans", sans-serif' font-size="11.6" fill="#111" stroke="#111" stroke-width="0.25" text-anchor="middle">Sensitivity</text>
<path d="M140.00 1384.40 L150.71 1384.40 L150.71 1368.81 L156.21 1368.81 L156.21 1306.45 L161.71 1306.45 L161.71 1275.27 L183.43 1275.27 L183.43 1150.55 L194.72 1150.55 L194.72 1134.96 L227.43 1134.96 L227.43 1119.37 L260.44 1119.37 L260.44 1088.19 L424.59 1088.19 L424.59 1072.60 L451.80 1072.60" fill="none" stroke="#C8142C" stroke-width="1.9" stroke-linejoin="miter" stroke-linecap="butt"/>
<text x="281.40" y="1308.20" font-family='"Liberation Sans", sans-serif' font-size="12.1" fill="#C8142C" stroke="#C8142C" stroke-width="0.25" textLength="163.00" lengthAdjust="spacingAndGlyphs">CPD AUC: 0.818 (0.707–0.928)</text>
</g>
<clipPath id="clipE2"><rect x="456.5" y="1040.6" width="416.0" height="416.2"/></clipPath>
<g clip-path="url(#clipE2)">
<clipPath id="iclipE2"><rect x="516.5" y="1060.6" width="336.0" height="336.2"/></clipPath>
<line x1="497.85" y1="1415.32" x2="871.65" y2="1041.88" stroke="#B5B5B5" stroke-width="1.25" clip-path="url(#iclipE2)"/>
<rect x="516.50" y="1060.60" width="336.00" height="336.20" fill="none" stroke="#3d3d3d" stroke-width="1.3"/>
<path d="M529.00 1396.80V1404.00 M516.50 1384.20H509.30 M591.30 1396.80V1404.00 M516.50 1321.96H509.30 M653.60 1396.80V1404.00 M516.50 1259.72H509.30 M715.90 1396.80V1404.00 M516.50 1197.48H509.30 M778.20 1396.80V1404.00 M516.50 1135.24H509.30 M840.50 1396.80V1404.00 M516.50 1073.00H509.30" stroke="#3d3d3d" stroke-width="1.3" fill="none"/>
<text x="529.00" y="1422.30" font-family='"Liberation Sans", sans-serif' font-size="11.6" fill="#111" text-anchor="middle" stroke="#111" stroke-width="0.25">0.0</text>
<text transform="translate(500.30,1384.20) rotate(-90)" x="0" y="0" font-family='"Liberation Sans", sans-serif' font-size="11.6" fill="#111" stroke="#111" stroke-width="0.25" text-anchor="middle">0.0</text>
<text x="591.30" y="1422.30" font-family='"Liberation Sans", sans-serif' font-size="11.6" fill="#111" text-anchor="middle" stroke="#111" stroke-width="0.25">0.2</text>
<text transform="translate(500.30,1321.96) rotate(-90)" x="0" y="0" font-family='"Liberation Sans", sans-serif' font-size="11.6" fill="#111" stroke="#111" stroke-width="0.25" text-anchor="middle">0.2</text>
<text x="653.60" y="1422.30" font-family='"Liberation Sans", sans-serif' font-size="11.6" fill="#111" text-anchor="middle" stroke="#111" stroke-width="0.25">0.4</text>
<text transform="translate(500.30,1259.72) rotate(-90)" x="0" y="0" font-family='"Liberation Sans", sans-serif' font-size="11.6" fill="#111" stroke="#111" stroke-width="0.25" text-anchor="middle">0.4</text>
<text x="715.90" y="1422.30" font-family='"Liberation Sans", sans-serif' font-size="11.6" fill="#111" text-anchor="middle" stroke="#111" stroke-width="0.25">0.6</text>
<text transform="translate(500.30,1197.48) rotate(-90)" x="0" y="0" font-family='"Liberation Sans", sans-serif' font-size="11.6" fill="#111" stroke="#111" stroke-width="0.25" text-anchor="middle">0.6</text>
<text x="778.20" y="1422.30" font-family='"Liberation Sans", sans-serif' font-size="11.6" fill="#111" text-anchor="middle" stroke="#111" stroke-width="0.25">0.8</text>
<text transform="translate(500.30,1135.24) rotate(-90)" x="0" y="0" font-family='"Liberation Sans", sans-serif' font-size="11.6" fill="#111" stroke="#111" stroke-width="0.25" text-anchor="middle">0.8</text>
<text x="840.50" y="1422.30" font-family='"Liberation Sans", sans-serif' font-size="11.6" fill="#111" text-anchor="middle" stroke="#111" stroke-width="0.25">1.0</text>
<text transform="translate(500.30,1073.00) rotate(-90)" x="0" y="0" font-family='"Liberation Sans", sans-serif' font-size="11.6" fill="#111" stroke="#111" stroke-width="0.25" text-anchor="middle">1.0</text>
<text x="684.75" y="1443.00" font-family='"Liberation Sans", sans-serif' font-size="11.6" fill="#111" text-anchor="middle" stroke="#111" stroke-width="0.25">1 − Specificity</text>
<text transform="translate(478.10,1228.60) rotate(-90)" x="0" y="0" font-family='"Liberation Sans", sans-serif' font-size="11.6" fill="#111" stroke="#111" stroke-width="0.25" text-anchor="middle">Sensitivity</text>
<path d="M529.00 1384.20 L529.00 1368.64 L534.50 1368.64 L534.50 1275.28 L539.99 1275.28 L539.99 1244.16 L545.49 1244.16 L545.49 1213.04 L550.98 1213.04 L550.98 1197.48 L556.48 1197.48 L556.48 1166.36 L561.97 1166.36 L561.97 1135.24 L583.95 1135.24 L583.95 1119.68 L594.94 1119.68 L594.94 1104.12 L649.32 1104.12 L649.32 1088.56 L665.52 1088.56 L665.52 1073.00 L840.50 1073.00" fill="none" stroke="#C8142C" stroke-width="1.9" stroke-linejoin="miter" stroke-linecap="butt"/>
<text x="632.80" y="1330.10" font-family='"Liberation Sans", sans-serif' font-size="12.1" fill="#C8142C" stroke="#C8142C" stroke-width="0.25" textLength="174.30" lengthAdjust="spacingAndGlyphs"><tspan>GGCT</tspan><tspan dx="2.4"> AUC: 0.903 (0.832–0.974)</tspan></text>
</g>
<clipPath id="clipE3"><rect x="863.6" y="1041.6" width="414.3" height="413.9"/></clipPath>
<g clip-path="url(#clipE3)">
<clipPath id="iclipE3"><rect x="923.6" y="1061.6" width="334.3" height="333.9"/></clipPath>
<line x1="905.03" y1="1414.36" x2="1276.67" y2="1042.84" stroke="#B5B5B5" stroke-width="1.25" clip-path="url(#iclipE3)"/>
<rect x="923.60" y="1061.60" width="334.30" height="333.90" fill="none" stroke="#3d3d3d" stroke-width="1.3"/>
<path d="M936.00 1395.50V1402.70 M923.60 1383.40H916.40 M997.94 1395.50V1402.70 M923.60 1321.48H916.40 M1059.88 1395.50V1402.70 M923.60 1259.56H916.40 M1121.82 1395.50V1402.70 M923.60 1197.64H916.40 M1183.76 1395.50V1402.70 M923.60 1135.72H916.40 M1245.70 1395.50V1402.70 M923.60 1073.80H916.40" stroke="#3d3d3d" stroke-width="1.3" fill="none"/>
<text x="936.00" y="1421.00" font-family='"Liberation Sans", sans-serif' font-size="11.6" fill="#111" text-anchor="middle" stroke="#111" stroke-width="0.25">0.0</text>
<text transform="translate(907.40,1383.40) rotate(-90)" x="0" y="0" font-family='"Liberation Sans", sans-serif' font-size="11.6" fill="#111" stroke="#111" stroke-width="0.25" text-anchor="middle">0.0</text>
<text x="997.94" y="1421.00" font-family='"Liberation Sans", sans-serif' font-size="11.6" fill="#111" text-anchor="middle" stroke="#111" stroke-width="0.25">0.2</text>
<text transform="translate(907.40,1321.48) rotate(-90)" x="0" y="0" font-family='"Liberation Sans", sans-serif' font-size="11.6" fill="#111" stroke="#111" stroke-width="0.25" text-anchor="middle">0.2</text>
<text x="1059.88" y="1421.00" font-family='"Liberation Sans", sans-serif' font-size="11.6" fill="#111" text-anchor="middle" stroke="#111" stroke-width="0.25">0.4</text>
<text transform="translate(907.40,1259.56) rotate(-90)" x="0" y="0" font-family='"Liberation Sans", sans-serif' font-size="11.6" fill="#111" stroke="#111" stroke-width="0.25" text-anchor="middle">0.4</text>
<text x="1121.82" y="1421.00" font-family='"Liberation Sans", sans-serif' font-size="11.6" fill="#111" text-anchor="middle" stroke="#111" stroke-width="0.25">0.6</text>
<text transform="translate(907.40,1197.64) rotate(-90)" x="0" y="0" font-family='"Liberation Sans", sans-serif' font-size="11.6" fill="#111" stroke="#111" stroke-width="0.25" text-anchor="middle">0.6</text>
<text x="1183.76" y="1421.00" font-family='"Liberation Sans", sans-serif' font-size="11.6" fill="#111" text-anchor="middle" stroke="#111" stroke-width="0.25">0.8</text>
<text transform="translate(907.40,1135.72) rotate(-90)" x="0" y="0" font-family='"Liberation Sans", sans-serif' font-size="11.6" fill="#111" stroke="#111" stroke-width="0.25" text-anchor="middle">0.8</text>
<text x="1245.70" y="1421.00" font-family='"Liberation Sans", sans-serif' font-size="11.6" fill="#111" text-anchor="middle" stroke="#111" stroke-width="0.25">1.0</text>
<text transform="translate(907.40,1073.80) rotate(-90)" x="0" y="0" font-family='"Liberation Sans", sans-serif' font-size="11.6" fill="#111" stroke="#111" stroke-width="0.25" text-anchor="middle">1.0</text>
<text x="1090.85" y="1441.70" font-family='"Liberation Sans", sans-serif' font-size="11.6" fill="#111" text-anchor="middle" stroke="#111" stroke-width="0.25">1 − Specificity</text>
<text transform="translate(885.20,1228.60) rotate(-90)" x="0" y="0" font-family='"Liberation Sans", sans-serif' font-size="11.6" fill="#111" stroke="#111" stroke-width="0.25" text-anchor="middle">Sensitivity</text>
<path d="M936.00 1383.40 L941.78 1383.40 L941.78 1259.56 L946.99 1259.56 L946.99 1244.08 L963.47 1244.08 L963.47 1213.12 L979.38 1213.12 L979.38 1197.64 L1001.35 1197.64 L1001.35 1182.16 L1006.85 1182.16 L1006.85 1104.76 L1077.11 1104.76 L1077.11 1089.28 L1213.02 1089.28 L1213.02 1073.80 L1245.70 1073.80" fill="none" stroke="#C8142C" stroke-width="1.9" stroke-linejoin="miter" stroke-linecap="butt"/>
<text x="1060.30" y="1308.10" font-family='"Liberation Sans", sans-serif' font-size="12.1" fill="#C8142C" stroke="#C8142C" stroke-width="0.25" textLength="175.20" lengthAdjust="spacingAndGlyphs"><tspan>SUZ12</tspan><tspan dx="2.4"> AUC: 0.840 (0.734–0.947)</tspan></text>
</g>
<clipPath id="clipE4"><rect x="1264.0" y="1040.7" width="415.3" height="415.7"/></clipPath>
<g clip-path="url(#clipE4)">
<clipPath id="iclipE4"><rect x="1324.0" y="1060.7" width="335.3" height="335.7"/></clipPath>
<line x1="1305.29" y1="1414.97" x2="1678.61" y2="1042.13" stroke="#B5B5B5" stroke-width="1.25" clip-path="url(#iclipE4)"/>
<rect x="1324.00" y="1060.70" width="335.30" height="335.70" fill="none" stroke="#3d3d3d" stroke-width="1.3"/>
<path d="M1336.40 1396.40V1403.60 M1324.00 1383.90H1316.80 M1398.62 1396.40V1403.60 M1324.00 1321.76H1316.80 M1460.84 1396.40V1403.60 M1324.00 1259.62H1316.80 M1523.06 1396.40V1403.60 M1324.00 1197.48H1316.80 M1585.28 1396.40V1403.60 M1324.00 1135.34H1316.80 M1647.50 1396.40V1403.60 M1324.00 1073.20H1316.80" stroke="#3d3d3d" stroke-width="1.3" fill="none"/>
<text x="1336.40" y="1421.90" font-family='"Liberation Sans", sans-serif' font-size="11.6" fill="#111" text-anchor="middle" stroke="#111" stroke-width="0.25">0.0</text>
<text transform="translate(1307.80,1383.90) rotate(-90)" x="0" y="0" font-family='"Liberation Sans", sans-serif' font-size="11.6" fill="#111" stroke="#111" stroke-width="0.25" text-anchor="middle">0.0</text>
<text x="1398.62" y="1421.90" font-family='"Liberation Sans", sans-serif' font-size="11.6" fill="#111" text-anchor="middle" stroke="#111" stroke-width="0.25">0.2</text>
<text transform="translate(1307.80,1321.76) rotate(-90)" x="0" y="0" font-family='"Liberation Sans", sans-serif' font-size="11.6" fill="#111" stroke="#111" stroke-width="0.25" text-anchor="middle">0.2</text>
<text x="1460.84" y="1421.90" font-family='"Liberation Sans", sans-serif' font-size="11.6" fill="#111" text-anchor="middle" stroke="#111" stroke-width="0.25">0.4</text>
<text transform="translate(1307.80,1259.62) rotate(-90)" x="0" y="0" font-family='"Liberation Sans", sans-serif' font-size="11.6" fill="#111" stroke="#111" stroke-width="0.25" text-anchor="middle">0.4</text>
<text x="1523.06" y="1421.90" font-family='"Liberation Sans", sans-serif' font-size="11.6" fill="#111" text-anchor="middle" stroke="#111" stroke-width="0.25">0.6</text>
<text transform="translate(1307.80,1197.48) rotate(-90)" x="0" y="0" font-family='"Liberation Sans", sans-serif' font-size="11.6" fill="#111" stroke="#111" stroke-width="0.25" text-anchor="middle">0.6</text>
<text x="1585.28" y="1421.90" font-family='"Liberation Sans", sans-serif' font-size="11.6" fill="#111" text-anchor="middle" stroke="#111" stroke-width="0.25">0.8</text>
<text transform="translate(1307.80,1135.34) rotate(-90)" x="0" y="0" font-family='"Liberation Sans", sans-serif' font-size="11.6" fill="#111" stroke="#111" stroke-width="0.25" text-anchor="middle">0.8</text>
<text x="1647.50" y="1421.90" font-family='"Liberation Sans", sans-serif' font-size="11.6" fill="#111" text-anchor="middle" stroke="#111" stroke-width="0.25">1.0</text>
<text transform="translate(1307.80,1073.20) rotate(-90)" x="0" y="0" font-family='"Liberation Sans", sans-serif' font-size="11.6" fill="#111" stroke="#111" stroke-width="0.25" text-anchor="middle">1.0</text>
<text x="1491.95" y="1442.60" font-family='"Liberation Sans", sans-serif' font-size="11.6" fill="#111" text-anchor="middle" stroke="#111" stroke-width="0.25">1 − Specificity</text>
<text transform="translate(1285.60,1228.55) rotate(-90)" x="0" y="0" font-family='"Liberation Sans", sans-serif' font-size="11.6" fill="#111" stroke="#111" stroke-width="0.25" text-anchor="middle">Sensitivity</text>
<path d="M1336.40 1383.90 L1336.40 1368.37 L1341.90 1368.37 L1341.90 1352.83 L1347.40 1352.83 L1347.40 1337.30 L1352.61 1337.30 L1352.61 1244.09 L1363.60 1244.09 L1363.60 1228.55 L1374.89 1228.55 L1374.89 1213.02 L1391.10 1213.02 L1391.10 1181.95 L1407.59 1181.95 L1407.59 1166.41 L1424.09 1166.41 L1424.09 1150.88 L1445.50 1150.88 L1445.50 1135.34 L1462.00 1135.34 L1462.00 1119.81 L1467.21 1119.81 L1467.21 1104.27 L1521.90 1104.27 L1521.90 1088.74 L1527.11 1088.74 L1527.11 1073.20 L1647.50 1073.20" fill="none" stroke="#C8142C" stroke-width="1.9" stroke-linejoin="miter" stroke-linecap="butt"/>
<text x="1439.80" y="1322.00" font-family='"Liberation Sans", sans-serif' font-size="12.1" fill="#C8142C" stroke="#C8142C" stroke-width="0.25" textLength="178.30" lengthAdjust="spacingAndGlyphs">ZMYM2 AUC: 0.809 (0.704–0.913)</text>
</g>
<text x="2.50" y="31.70" font-family='"Liberation Serif", serif' font-size="35" fill="#111">A</text>
<text x="574.60" y="24.00" font-family='"Liberation Serif", serif' font-size="33" fill="#111">B</text>
<text x="1051.50" y="30.50" font-family='"Liberation Serif", serif' font-size="36" fill="#111">C</text>
<text x="39.70" y="621.80" font-family='"Liberation Serif", serif' font-size="34" fill="#111">D</text>
<text x="41.90" y="1079.20" font-family='"Liberation Serif", serif' font-size="34" fill="#111">E</text>
</svg></body></html>
